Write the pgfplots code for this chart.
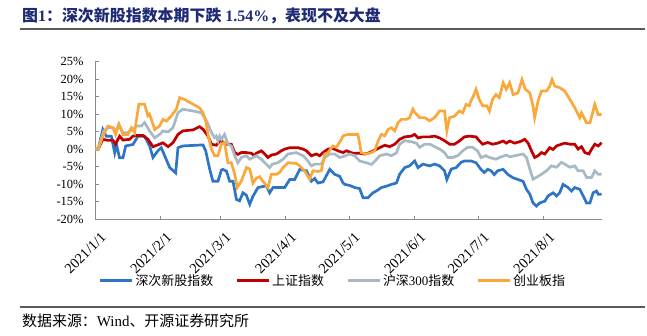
\documentclass[border=0pt]{standalone}
\usepackage{fontspec}
\setmainfont{Liberation Serif}
\newfontfamily\cjk{Noto Sans CJK SC}
\usepackage{pgfplots}
\pgfplotsset{compat=1.18}
\definecolor{cBlue}{RGB}{47,117,198}
\definecolor{cRed}{RGB}{192,0,0}
\definecolor{cGray}{RGB}{166,185,196}
\definecolor{cOrange}{RGB}{250,168,60}
\definecolor{cTitle}{RGB}{30,42,115}
\definecolor{cLine}{RGB}{90,90,90}
\definecolor{cAxis}{RGB}{140,140,140}
\begin{document}
\begin{tikzpicture}[x=1bp,y=1bp]
\path[use as bounding box] (0,0) rectangle (647,335);
\node[anchor=west, text=cTitle, font=\fontsize{16}{16}\selectfont\bfseries, inner sep=0] at (22,319.5)
 {{\cjk\bfseries 图}1{\cjk\bfseries ：深次新股指数本期下跌} 1.54\%{\cjk\bfseries ，表现不及大盘}};
\draw[line width=1.2bp, cLine] (20,306) -- (645,306);
\draw[line width=1.2bp, cLine] (20,28) -- (645,28);
\node[anchor=west, font=\fontsize{15}{15}\selectfont, inner sep=0] at (22,14)
 {{\cjk 数据来源：}Wind{\cjk 、开源证券研究所}};
\begin{axis}[
  at={(95bp,116bp)}, anchor=south west,
  scale only axis, width=507bp, height=157.3bp,
  xmin=0, xmax=239.5, ymin=-20, ymax=25,
  clip=false,
  axis x line=bottom, axis y line=left,
  axis line style={cAxis, line width=0.8bp, -},
  tick style={cAxis, line width=0.8bp},
  major tick length=3.5bp, tick align=inside,
  xtick={0,31,59,90,120,151,181,212},
  xticklabels={2021/1/1,2021/2/1,2021/3/1,2021/4/1,2021/5/1,2021/6/1,2021/7/1,2021/8/1},
  xticklabel style={rotate=45, anchor=north east, inner sep=0pt, xshift=-5bp, yshift=-12bp, font=\fontsize{14.5}{14.5}\selectfont},
  ytick={-20,-15,...,25},
  /pgf/number format/assume math mode=true,
  yticklabel={\pgfmathprintnumber{\tick}\%},
  yticklabel style={font=\fontsize{12.5}{12.5}\selectfont, xshift=-8bp},
  legend columns=4,
  legend cell align=left,
  legend style={at={(0.469,-0.394)}, anchor=center, draw=none, fill=none,
    font=\fontsize{13}{13}\selectfont,
    /tikz/every even column/.append style={column sep=20bp}},
  legend image code/.code={\draw[#1, line width=3bp] (0bp,0bp) -- (32bp,0bp);},
]
\addplot[cBlue, line width=2.7bp] coordinates {
(0,0)(1.5,0)(3.7,5.6)(5.3,3.7)(7.7,3.7)(9.3,-1)(10.1,1.4)(11.6,-2.5)(13.2,-2.5)(14.5,0.9)(17.9,1.3)(20.3,3.7)(23.4,3.7)(25.8,0.9)(27.4,-2.4)(29.7,-0.5)(31.3,0.4)(32.9,-1.9)(35.3,-5.3)(38.1,-6.8)(39.2,0.4)(41.5,0.9)(51,1.2)(52.3,-0.5)(54.2,-5.8)(55.7,-9.2)(58.1,-9.2)(59.7,-6)(60.4,-5.8)(62.1,-6.3)(63.6,-9.2)(65.2,-9.2)(66.8,-14.4)(68.3,-14.8)(69.9,-12.5)(71.5,-13.2)(73.1,-15.8)(74.6,-13.5)(77,-11)(81,-10.5)(82.5,-12.5)(84.1,-11)(89.6,-11)(92,-8.7)(94.3,-8.7)(96.7,-5.8)(99.9,-6.2)(102.2,-9.2)(103.8,-8.4)(105.3,-9.7)(107.7,-9.4)(110.9,-5.8)(113.2,-7.2)(115.6,-7.8)(117.2,-9.7)(118,-10.1)(120.3,-10.4)(122.7,-11)(125,-11.3)(126.6,-13.9)(129,-13.9)(131.3,-12.5)(132.9,-12)(135.3,-11)(137.7,-10.6)(140,-10.1)(142.4,-9.7)(143.9,-7.2)(146.3,-5.3)(148.6,-4.8)(151,-3.4)(152.6,-5.3)(154.9,-4.3)(158.1,-4.8)(160.4,-4.3)(162.8,-4.8)(165.1,-6.2)(166.2,-8.7)(168.3,-5.7)(170.6,-5.3)(172.9,-3.8)(174.5,-3.4)(177.6,-3.4)(180,-3.9)(182.3,-5.8)(183.9,-6.7)(185.5,-5.8)(187.1,-6.2)(188.6,-7.3)(190.2,-6.2)(192.8,-5.8)(195.1,-7.3)(197.5,-8.2)(199.8,-8.7)(202.2,-9.2)(203.8,-11.5)(205.4,-12.9)(206.9,-15.4)(208.5,-16.3)(210.1,-15.4)(212.5,-14.9)(214,-13.4)(216.4,-12.5)(218,-13.4)(219.5,-12.5)(221.1,-10.1)(223.5,-11)(225.1,-12)(226.6,-11)(229,-11.5)(230.6,-13.4)(232.2,-15.4)(233.8,-15.4)(235.3,-12.5)(236.9,-12)(237.7,-12.9)(239.3,-12.9)
};
\addlegendentry{{\cjk 深次新股指数}}
\addplot[cRed, line width=2.7bp] coordinates {
(0,0)(1.5,0)(3.7,2.8)(6.1,2.5)(8.5,2.5)(9.7,1.4)(11.6,3.7)(13.2,2.6)(16.4,2.8)(17.9,3.7)(19.5,3.9)(22.6,3.9)(25,2.8)(27.4,0.7)(30.5,1.4)(32.1,1.8)(34.5,0.7)(36.8,1.8)(39.2,4.2)(41.5,5.2)(46.3,5.5)(49.4,6.4)(51,5.7)(53.4,3.7)(55,1.4)(57.3,1.1)(58.9,2.3)(59.7,2.3)(62.1,1.4)(64.4,1.4)(66,-1)(67.5,-1.5)(69.1,-1)(71.5,-1)(73.9,-1.2)(75.4,-1.9)(76.2,-1.2)(78.6,-0.5)(80.2,-1.4)(81.7,-2.4)(83.3,-1.7)(85.7,-1.4)(88,-0.5)(89.6,0)(92,0.4)(95.9,0.4)(98.3,0)(99.9,-0.5)(102.2,-1.9)(104.6,-1.4)(106.1,-1.9)(107.7,-1)(110.1,0)(112.4,0.2)(114.8,-0.5)(117.2,-1)(118.8,-0.5)(121.9,-1.2)(125,-1.2)(127.4,-1.4)(129,-1.2)(132.1,-0.3)(134.5,0.4)(136.9,1.1)(139.2,0.7)(141.6,1.4)(143.9,2.8)(146.3,3.5)(149.4,3.7)(151,4.2)(152.6,3.2)(154.9,3.5)(158.1,3.5)(160.4,3.7)(162.8,3.2)(165.1,2.4)(167.5,1.4)(169.8,1.4)(172.1,2.3)(174.5,3.5)(176.8,3.7)(180,3.5)(181.5,2.4)(183.1,1.4)(185.5,1.9)(187.8,1.4)(190.2,1.7)(192.8,2.3)(194.3,1.7)(195.9,2.3)(198.3,1.7)(201.5,2.3)(203,2.8)(204.6,1.7)(206.2,-0.5)(207.7,-2.4)(209.3,-1.9)(210.9,-1)(212.5,-1.4)(214.8,0.4)(216.4,-0.1)(218,0.9)(220.3,1.4)(221.9,1.7)(224.3,1.4)(226.6,1.4)(228.2,0)(229.8,0.7)(231.4,-1)(233.3,-1.4)(234.6,0)(236.1,1.4)(237.7,0.9)(239.3,1.8)
};
\addlegendentry{{\cjk 上证指数}}
\addplot[cGray, line width=2.7bp] coordinates {
(0,0)(1.5,0)(4.1,5.2)(6.1,6.1)(8.5,6.1)(10.1,5.2)(11.2,7.1)(13.2,4.7)(15.5,4.7)(17.9,5.7)(19.5,6.6)(21.9,6.6)(23.4,7.6)(25.8,5.2)(28.2,3.2)(30.5,4.2)(32.1,5.2)(34.5,4.9)(36.8,6.1)(39.2,10.4)(41.5,11.4)(46.3,10.9)(50.2,10.4)(51.8,9)(53.4,7.1)(55,4.7)(56.5,3.3)(57.3,3.7)(58.1,2.3)(58.9,3.7)(59.7,2.8)(61.2,4.2)(62.8,1.4)(64.4,0.9)(66,-1.9)(67.5,-3.9)(69.1,-2.4)(71.5,-1.9)(73.1,-2.9)(74.6,-2.4)(76.2,-1.9)(78.6,-2.9)(80.2,-3.9)(82.5,-5.3)(83.8,-4.3)(86.4,-3.9)(88.8,-2.9)(91.2,-1.4)(95.1,-1)(98.3,-1.9)(100.6,-3.4)(102.2,-4.8)(103.8,-4.3)(106.9,-4.3)(108.5,-2.4)(110.9,-1.4)(113.2,-1.4)(115.6,-2.4)(118,-2)(120.3,-1.4)(122.7,-1.9)(125,-3.4)(128.2,-3.9)(130.6,-4.4)(132.9,-3)(134.5,-1.9)(137.7,-1.4)(140,-1.9)(142.4,-1.1)(143.9,1.4)(146.3,2.4)(149.4,2.1)(151.8,1.7)(153.4,0.5)(155.7,1.4)(158.1,1.4)(160.4,0.7)(162.8,0)(165.1,-1)(166.7,-2.4)(169,-2.4)(171.3,-1.9)(173.7,-0.5)(176,0.5)(178.4,0.5)(180.7,-0.5)(182.3,-2.4)(184.7,-1.9)(186.3,-2.4)(189.4,-2.9)(191,-2.4)(194.3,-1.7)(195.9,-2.2)(198.3,-1.9)(202.2,-1.4)(203.8,-2.4)(205.4,-5.7)(206.9,-8.6)(208.5,-8.1)(210.9,-7.2)(213.3,-6.2)(215.6,-4.8)(218,-5.2)(220.3,-3.8)(221.9,-4.3)(224.3,-5.2)(226.6,-4.8)(228.2,-6.2)(230.6,-6.2)(232.2,-8.1)(234.6,-8.1)(236.1,-6.2)(237.7,-7.2)(239.3,-7.2)
};
\addlegendentry{{\cjk 沪深}300{\cjk 指数}}
\addplot[cOrange, line width=2.7bp] coordinates {
(0,0)(1.5,0)(3.7,3.7)(6.1,6.6)(8.5,6.1)(9.7,4.2)(11.3,7.1)(13.2,4.2)(15.5,4.2)(17.2,6.1)(18.7,4.7)(20.7,12.8)(23.4,12.8)(25,9.5)(25.8,10)(28.2,5.6)(30.5,6.6)(32.1,8.5)(33.7,8)(36.1,9.5)(38.4,11.4)(40,14.7)(42.3,14.2)(47.9,12.3)(49.4,11.8)(51,10.4)(52.3,8)(53.4,4.2)(55,0)(56.5,-1.9)(58.1,-1.9)(58.9,-0.2)(59.7,1.4)(61.2,1.9)(62.8,-3.9)(64.4,-3.9)(66,-7.2)(67.2,-11)(69.1,-9.2)(71.5,-5.3)(73.1,-5.7)(74.6,-9.7)(76.2,-8.3)(77.8,-7.9)(79.3,-9.2)(81.7,-11)(83.3,-7.2)(85.7,-7.2)(87.2,-6.7)(88.8,-5.3)(91.2,-3.9)(95.1,-4.1)(96.7,-4.8)(99,-6.2)(101.4,-8.6)(103,-6.2)(105.3,-6.4)(106.9,-6.2)(108.5,-1.4)(110.1,-1)(112.4,0.9)(114,0.5)(116.4,2.8)(117.2,3.8)(119.5,4.2)(124.2,4.2)(125.8,-1)(128.2,-1.4)(130.6,-1)(132.1,-0.5)(133.7,2.3)(135.3,4.2)(136.9,3.8)(138.4,5.6)(140,6.1)(141.6,5.2)(143.1,7.5)(144.7,8.5)(147.1,8.5)(148.6,9)(150.2,11.4)(151,10.5)(153.4,9)(155.7,9)(158.1,8.1)(160.4,9)(162.8,10.9)(165.1,10.9)(166.2,5.2)(167.5,9)(169.8,9.4)(172.1,10.9)(173.7,10.4)(175.3,12.8)(176.8,12.4)(177.6,13.8)(178.4,14.7)(180,17.1)(181.5,14.2)(183.1,12.4)(185.1,12.4)(186.3,10.9)(187.8,14.2)(189.4,15.6)(191,14.7)(192.8,19)(194.3,17.1)(195.9,19)(197.5,15.6)(199.8,16.1)(201.7,19.9)(203.3,17.1)(205.4,16.1)(206.9,12.4)(207.7,9)(209.3,13.8)(210.9,16.6)(213.3,16.6)(214.8,18)(215.9,19.9)(217.2,18)(219.5,17.6)(221.9,16.6)(224.3,14.2)(226.6,11.9)(229,9)(229.8,10.4)(232.2,7.5)(233.8,7.5)(236.1,12.8)(237.7,9.9)(239.3,9.9)
};
\addlegendentry{{\cjk 创业板指}}
\end{axis}
\end{tikzpicture}
\end{document}
